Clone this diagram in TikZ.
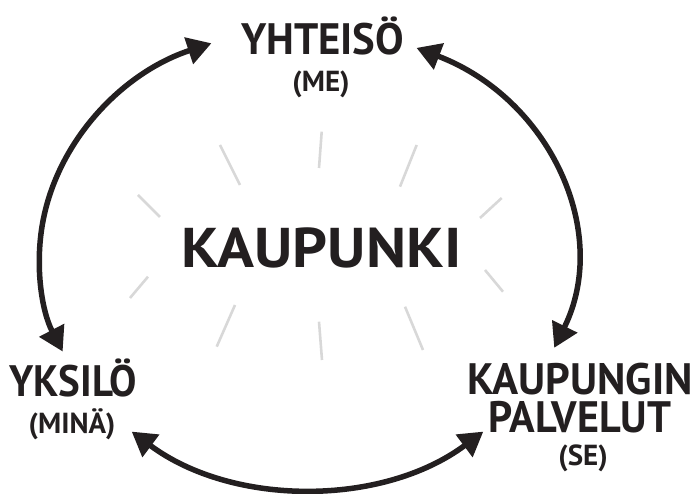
\documentclass[tikz,border=0pt]{standalone}
\usepackage{fontspec}
\setmainfont{PT Sans}
\usetikzlibrary{arrows.meta,calc}
\definecolor{ink}{HTML}{231F20}
\definecolor{ray}{HTML}{D8D8D8}
\begin{document}
\begin{tikzpicture}[x=1pt,y=1pt,
  big/.style={font=\fontsize{44}{38}\selectfont\bfseries, text=ink, inner sep=0pt, anchor=base},
  small/.style={font=\fontsize{29}{29}\selectfont\bfseries, text=ink, inner sep=0pt, anchor=base},
  centre/.style={font=\fontsize{56}{56}\selectfont\bfseries, text=ink, inner sep=0pt, anchor=base},
  cyc/.style={line width=5.5pt, draw=ink, {Triangle[length=24pt,width=27pt]}-{Triangle[length=24pt,width=27pt]}},
  raystyle/.style={line width=2.6pt, draw=ray}]
\useasboundingbox (0,0) rectangle (699,494);
% texts
\node[big] (yht) at (322.5,439) {\scalebox{0.97}[1]{YHTEISÖ}};
\node[small] (me) at (321,402) {(ME)};
\node[centre] (kau) at (321.5,226) {\scalebox{1.09}[1]{KAUPUNKI}};
\node[big] (yks) at (73,97) {\scalebox{0.93}[1]{YKSILÖ}};
\node[small] (min) at (72,60) {(MINÄ)};
\node[big, anchor=north, align=center] (kp) at (580,131)
  {\scalebox{0.98}[1]{KAUPUNGIN}\\\scalebox{0.96}[1]{PALVELUT}};
\node[small] (se) at (583,28) {(SE)};
% cycle arcs (ellipse centre c)
\coordinate (c) at (307.5,236);
\coordinate (l1) at ($(c)+(111:268pt and 230pt)$);
\coordinate (l2) at ($(c)+(204:268pt and 230pt)$);
\coordinate (r1) at ($(c)+(66:268pt and 230pt)$);
\coordinate (r2) at ($(c)+(-23:268pt and 230pt)$);
\coordinate (b1) at ($(c)+(229:268pt and 230pt)$);
\coordinate (b2) at ($(c)+(311:268pt and 230pt)$);
\draw[cyc] (l1) arc[start angle=111,end angle=204,x radius=268pt,y radius=230pt];
\draw[cyc] (r1) arc[start angle=66,end angle=-23,x radius=268pt,y radius=230pt];
\draw[cyc] (b1) arc[start angle=229,end angle=311,x radius=268pt,y radius=230pt];
% rays
\foreach \i/\a/\b/\cc/\d in {1/321.7/362.3/319/326, 2/220/349/240/309, 3/416.7/349/400/307.3,
  4/138/299/160/277, 5/501.7/296/480/276, 6/148/217.3/130/196, 7/485/224/503/202.3,
  8/235/189/216.7/147.3, 9/319/172.3/322/134, 10/405/187.3/423/144} {
  \coordinate (ra\i) at (\a,\b);
  \coordinate (rb\i) at (\cc,\d);
  \draw[raystyle] (ra\i) -- (rb\i);
}
\end{tikzpicture}
\end{document}
